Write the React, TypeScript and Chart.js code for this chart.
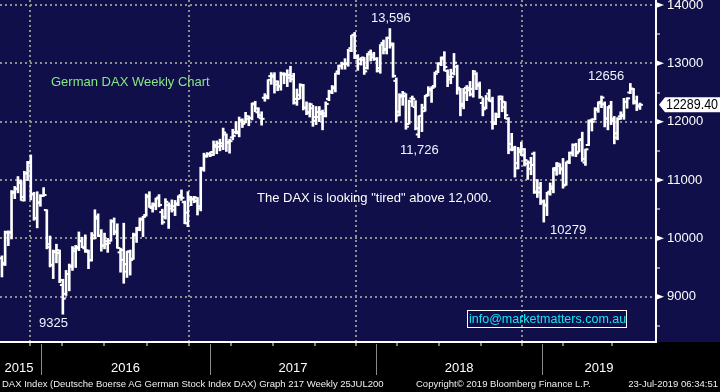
import { useEffect, useRef } from 'react';
import { Chart, registerables } from 'chart.js';

Chart.register(...registerables);

// ---- Weekly OHLC, DAX index, week ending 2 Oct 2015 (index 0) to 23 Jul 2019 ----
const opens = [
  // 2015
  9660, 9580, 10110, 10100, 10780, 10850, 10950, 10650, 11110, 11300, 10760, 10350, 10620, 10730,
  // 2016
  10485, 9900, 9540, 9780, 9750, 9200, 9050, 9390, 9530, 9780, 9850, 9960, 9830, 9770, 9630, 10000,
  10340, 10050, 9880, 9900, 9960, 10300, 10120, 9760, 9800, 9430, 9770, 9650, 10050, 10180, 10320,
  10400, 10720, 10520, 10560, 10700, 10450, 10370, 10570, 10560, 10550, 10600, 10740, 10620, 10440,
  10700, 10680, 10640, 10550, 11180, 11420, 11440,
  // 2017
  11430, 11570, 11570, 11580, 11780, 11640, 11730, 11820, 11830, 12020, 12000, 12050, 12060, 12300,
  12160, 12060, 12410, 12410, 12780, 12790, 12690, 12610, 12810, 12800, 12800, 12780, 12390, 12460,
  12620, 12240, 12150, 12230, 12080, 12080, 12130, 12100, 12390, 12500, 12570, 12860, 12960, 12990,
  13000, 13260, 13490, 13090, 13070, 13100, 12920, 13190, 13150, 13080,
  // 2018
  12870, 13350, 13230, 13440, 13310, 12700, 12170, 12430, 12440, 11960, 12400, 12250, 11780, 12100,
  12180, 12460, 12560, 12610, 12860, 12990, 13100, 12870, 12770, 12830, 12940, 12550, 12270, 12580,
  12580, 12470, 12820, 12640, 12320, 12240, 12480, 12350, 11990, 12080, 12390, 12340, 12050, 11620,
  11520, 11290, 11480, 11430, 11280, 11300, 11450, 10800, 10790, 10630,
  // 2019
  10580, 10800, 10850, 11170, 11240, 11200, 10920, 11320, 11470, 11600, 11480, 11700, 11300, 11600,
  12020, 12040, 12200, 12340, 12300, 12050, 12270, 12050, 11800, 12090, 12120, 12340, 12500, 12560,
  12350, 12280,
];

const highs = [
  // 2015
  9700, 10125, 10130, 10820, 10890, 11060, 10990, 11150, 11320, 11430, 10790, 10800, 10750, 10870,
  // 2016
  10490, 10040, 9800, 9900, 9800, 9300, 9450, 9560, 9860, 9880, 10110, 10020, 10060, 9800, 10100,
  10490, 10420, 10150, 10090, 10000, 10320, 10350, 10250, 9830, 10260, 9780, 9800, 10090, 10190,
  10350, 10380, 10760, 10800, 10610, 10690, 10750, 10500, 10680, 10610, 10660, 10650, 10730, 10830,
  10640, 10800, 10720, 10720, 10700, 11220, 11460, 11470, 11480,
  // 2017
  11670, 11670, 11700, 11890, 11790, 11700, 11870, 12000, 12080, 12050, 12160, 12100, 12320, 12350,
  12240, 12170, 12480, 12720, 12840, 12840, 12700, 12850, 12840, 12890, 12950, 12830, 12560, 12650,
  12640, 12340, 12320, 12280, 12260, 12260, 12200, 12340, 12540, 12620, 12830, 12970, 13020, 13080,
  13240, 13480, 13530, 13150, 13100, 13100, 13170, 13230, 13190, 13100,
  // 2018
  13320, 13400, 13450, 13596, 13350, 12750, 12480, 12520, 12480, 12370, 12440, 12360, 12100, 12300,
  12450, 12600, 12600, 12850, 13010, 13110, 13200, 12890, 12900, 13170, 12970, 12570, 12570, 12620,
  12690, 12880, 12840, 12680, 12410, 12450, 12550, 12420, 12150, 12440, 12440, 12340, 12070, 11800,
  11580, 11560, 11650, 11540, 11330, 11390, 11480, 11010, 10960, 10660,
  // 2019
  10790, 10950, 11210, 11300, 11280, 11370, 11310, 11480, 11620, 11630, 11700, 11820, 11530, 12030,
  12050, 12240, 12340, 12440, 12340, 12260, 12350, 12090, 12070, 12170, 12400, 12410, 12656, 12570,
  12440, 12320,
];

const lows = [
  // 2015
  9338, 9535, 9875, 9990, 10680, 10780, 10650, 10640, 10990, 10660, 10310, 10180, 10550, 10720,
  // 2016
  9820, 9510, 9310, 9580, 9240, 8700, 9020, 9100, 9450, 9500, 9790, 9840, 9760, 9480, 9610, 9990,
  10030, 9780, 9820, 9760, 9950, 10060, 9830, 9420, 9230, 9330, 9370, 9640, 9930, 10130, 10030,
  10380, 10530, 10450, 10490, 10540, 10240, 10330, 10170, 10450, 10390, 10560, 10650, 10250, 10200,
  10560, 10610, 10400, 10470, 11150, 11390, 11400,
  // 2017
  11420, 11450, 11500, 11520, 11490, 11460, 11690, 11790, 11740, 11900, 11980, 11930, 12030, 12170,
  12070, 11940, 12350, 12390, 12640, 12490, 12530, 12540, 12650, 12600, 12680, 12300, 12280, 12390,
  12200, 12120, 12080, 11920, 11950, 12000, 11860, 12080, 12360, 12480, 12510, 12810, 12900, 12900,
  12950, 13200, 13080, 12880, 12970, 12810, 12900, 13040, 13050, 12850,
  // 2018
  12830, 13160, 13160, 13260, 12760, 12000, 12100, 12280, 11870, 11960, 12260, 11860, 11726, 11830,
  12180, 12440, 12330, 12590, 12840, 12960, 12870, 12600, 12650, 12800, 12470, 12100, 12220, 12360,
  12440, 12420, 12550, 12400, 12100, 12220, 12350, 11870, 11950, 12070, 12170, 12050, 11450, 11500,
  11050, 11190, 11420, 11240, 11010, 11090, 10770, 10700, 10580, 10279,
  // 2019
  10390, 10740, 10780, 11080, 11100, 10860, 10910, 11280, 11410, 11400, 11480, 11320, 11250, 11590,
  11840, 12030, 12160, 12240, 11910, 11860, 11950, 11620, 11690, 12040, 12040, 12230, 12480, 12300,
  12190, 12210,
];

const closes = [
  // 2015
  9553, 10096, 10104, 10795, 10850, 10988, 10708, 11119, 11293, 10752, 10340, 10608, 10727, 10743,
  // 2016
  9849, 9545, 9764, 9798, 9286, 8967, 9388, 9513, 9824, 9831, 9950, 9851, 9795, 9622, 10051, 10373,
  10039, 9870, 9952, 9917, 10287, 10103, 9834, 9631, 9558, 9776, 9630, 10066, 10147, 10337, 10367,
  10713, 10544, 10588, 10684, 10573, 10276, 10627, 10511, 10490, 10580, 10711, 10696, 10259, 10668,
  10665, 10700, 10513, 11203, 11404, 11449, 11481,
  // 2017
  11599, 11629, 11630, 11814, 11651, 11666, 11757, 11804, 12027, 11963, 12095, 12064, 12313, 12225,
  12109, 12049, 12438, 12717, 12770, 12638, 12602, 12823, 12816, 12753, 12733, 12325, 12389, 12631,
  12240, 12163, 12298, 12014, 12165, 12168, 12143, 12304, 12519, 12592, 12829, 12956, 12992, 12991,
  13217, 13479, 13127, 12994, 13060, 12862, 13154, 13104, 13073, 12918,
  // 2018
  13320, 13245, 13434, 13340, 12785, 12107, 12452, 12484, 11914, 12346, 12390, 11886, 12097, 12241,
  12442, 12540, 12580, 12820, 13001, 13078, 12938, 12724, 12767, 13011, 12580, 12306, 12496, 12541,
  12561, 12860, 12615, 12424, 12211, 12394, 12364, 11960, 12124, 12431, 12247, 12112, 11524, 11554,
  11201, 11519, 11529, 11341, 11193, 11257, 10788, 10866, 10634, 10559,
  // 2019
  10768, 10888, 11205, 11282, 11181, 10907, 11300, 11458, 11602, 11458, 11686, 11364, 11526, 12010,
  11999, 12222, 12315, 12413, 12060, 12239, 12011, 11727, 12045, 12096, 12340, 12399, 12569, 12323,
  12260, 12289.4,
];

// ---- Axis ticks (x values are week indices) ----
const yearLabels = ['2015', '2016', '2017', '2018', '2019'];
const yearLabelAt = [5.3, 38.55, 90.8, 142.6, 186.2];
const yearDividers = [12.2, 64.9, 116.7, 168.5];
const quarterTicks = [-0.6, 12.2, 25.3, 38.1, 52.1, 64.9, 78.0, 90.8, 104.2, 116.7, 129.8, 142.6, 156.0, 168.5, 181.6, 194.3];
const yMajorTicks = [9000, 10000, 11000, 12000, 13000, 14000];
const yMinorTicks = [8500, 9500, 10500, 11500, 12500, 13500];

const X_MIN = -0.6;
const X_MAX = 204.0;
const Y_MIN = 8223.5;
const Y_MAX = 14085.7;

const NAVY = '#100f4a';
const GRID = '#8e8e8e';

function fontAvailable(name: string): boolean {
  try {
    const c = document.createElement('canvas').getContext('2d');
    if (!c) return false;
    const s = 'mmmmmmmmmlli 0123456789 WAXgy';
    c.font = '40px monospace';
    const a = c.measureText(s).width;
    c.font = `40px "${name}", monospace`;
    const b = c.measureText(s).width;
    c.font = '40px serif';
    const a2 = c.measureText(s).width;
    c.font = `40px "${name}", serif`;
    const b2 = c.measureText(s).width;
    return a !== b && a2 !== b2;
  } catch {
    return false;
  }
}

const HAS_NARROW = fontAvailable('Liberation Sans Narrow');
const AXIS_FAMILY = HAS_NARROW
  ? '"Liberation Sans Narrow", "Liberation Sans", Arial, sans-serif'
  : '"Liberation Sans", Arial, sans-serif';
const AXIS_SIZE = HAS_NARROW ? 15 : 13;
const SANS = '"Liberation Sans", Arial, sans-serif';

const near = (a: number | undefined, b: number) => a !== undefined && Math.abs(a - b) < 0.01;
const isIn = (v: number | undefined, list: number[]) => list.some((t) => near(v, t));

const allXTicks = Array.from(new Set([...quarterTicks, ...yearLabelAt])).sort((a, b) => a - b);
const allYTicks = [...yMinorTicks, ...yMajorTicks].sort((a, b) => a - b);

const decorPlugin = {
  id: 'decor',
  afterDraw(chart: any) {
    const { ctx, chartArea, scales } = chart;
    const xs = scales.x;
    const ys = scales.y;
    ctx.save();
    // triangles at major y ticks
    ctx.fillStyle = '#ffffff';
    for (const v of yMajorTicks) {
      const py = ys.getPixelForValue(v);
      ctx.beginPath();
      ctx.moveTo(chartArea.right, py - 3);
      ctx.lineTo(chartArea.right + 8, py);
      ctx.lineTo(chartArea.right, py + 3);
      ctx.closePath();
      ctx.fill();
    }
    // year divider extensions below the axis
    ctx.strokeStyle = '#8a8a8a';
    ctx.lineWidth = 1;
    for (const v of yearDividers) {
      const px = Math.round(xs.getPixelForValue(v)) + 0.5;
      ctx.beginPath();
      ctx.moveTo(px, chartArea.bottom + 2);
      ctx.lineTo(px, chartArea.bottom + 33);
      ctx.stroke();
    }
    // last price flag
    const last = closes[closes.length - 1];
    const py = ys.getPixelForValue(last);
    const left = chartArea.right + 3;
    ctx.fillStyle = '#ffffff';
    ctx.beginPath();
    ctx.moveTo(left, py);
    ctx.lineTo(left + 6, py - 7.5);
    ctx.lineTo(chart.width, py - 7.5);
    ctx.lineTo(chart.width, py + 7.5);
    ctx.lineTo(left + 6, py + 7.5);
    ctx.closePath();
    ctx.fill();
    ctx.fillStyle = '#000000';
    ctx.font = `${AXIS_SIZE + 1}px ${AXIS_FAMILY}`;
    ctx.textBaseline = 'middle';
    ctx.textAlign = 'left';
    ctx.fillText(last.toFixed(2), left + 7, py + 0.5, 52);
    ctx.restore();
  },
};

function Txt(props: { x: number; y: number; color: string; size?: number; children: string }) {
  const size = props.size ?? 13;
  return (
    <div
      style={{
        position: 'absolute',
        left: props.x,
        top: props.y,
        color: props.color,
        fontFamily: SANS,
        fontSize: size,
        lineHeight: `${size}px`,
        whiteSpace: 'nowrap',
      }}
    >
      {props.children}
    </div>
  );
}

export default function App() {
  const ref = useRef<HTMLCanvasElement>(null);

  useEffect(() => {
    const canvas = ref.current;
    if (!canvas) return;
    const idx = closes.map((_, i) => i);
    const chart = new Chart(canvas, {
      type: 'bar',
      data: {
        datasets: [
          {
            type: 'bar',
            label: 'High-Low',
            data: idx.map((i) => ({ x: i, y: [lows[i], highs[i]] })) as any,
            backgroundColor: '#ffffff',
            borderWidth: 0,
            barThickness: 2,
          } as any,
          {
            type: 'line',
            label: 'Open',
            data: idx.map((i) => ({ x: i - 0.45, y: opens[i] })),
            showLine: false,
            pointStyle: 'line',
            pointRadius: 1.5,
            pointHoverRadius: 1.5,
            pointBorderWidth: 2,
            pointBorderColor: '#ffffff',
            pointBackgroundColor: '#ffffff',
          } as any,
          {
            type: 'line',
            label: 'Close',
            data: idx.map((i) => ({ x: i + 0.45, y: closes[i] })),
            showLine: false,
            pointStyle: 'line',
            pointRadius: 1.5,
            pointHoverRadius: 1.5,
            pointBorderWidth: 2,
            pointBorderColor: '#ffffff',
            pointBackgroundColor: '#ffffff',
          } as any,
        ],
      },
      options: {
        animation: false,
        responsive: false,
        devicePixelRatio: 1,
        events: [],
        layout: { padding: 0, autoPadding: false },
        plugins: {
          legend: { display: false },
          tooltip: { enabled: false },
        },
        scales: {
          x: {
            type: 'linear',
            min: X_MIN,
            max: X_MAX,
            offset: false,
            afterBuildTicks: (s: any) => {
              s.ticks = allXTicks.map((v) => ({ value: v }));
            },
            afterFit: (s: any) => {
              s.height = 50;
              s.paddingLeft = 0;
              s.paddingRight = 0;
            },
            grid: {
              color: (c: any) => (isIn(c.tick?.value, yearDividers) ? GRID : 'transparent'),
              lineWidth: 2,
              tickLength: 4,
              tickWidth: 1,
              tickColor: (c: any) => (isIn(c.tick?.value, quarterTicks) ? '#ffffff' : 'transparent'),
            },
            border: { color: '#ffffff', width: 2, dash: [2, 3] },
            ticks: {
              autoSkip: false,
              maxRotation: 0,
              minRotation: 0,
              padding: 368 - 346 - 0.6 * AXIS_SIZE,
              color: '#ffffff',
              font: { family: AXIS_FAMILY, size: AXIS_SIZE },
              callback: (v: any) => {
                const k = yearLabelAt.findIndex((t) => near(Number(v), t));
                return k >= 0 ? yearLabels[k] : '';
              },
            },
          },
          y: {
            type: 'linear',
            position: 'right',
            min: Y_MIN,
            max: Y_MAX,
            afterBuildTicks: (s: any) => {
              s.ticks = allYTicks.map((v) => ({ value: v }));
            },
            afterFit: (s: any) => {
              s.width = 64;
              s.paddingTop = 0;
              s.paddingBottom = 0;
            },
            grid: {
              color: (c: any) => (isIn(c.tick?.value, yMajorTicks) ? GRID : 'transparent'),
              lineWidth: 2,
              tickLength: 4,
              tickWidth: 1,
              tickColor: (c: any) => (isIn(c.tick?.value, yMinorTicks) ? '#ffffff' : 'transparent'),
            },
            border: { color: '#ffffff', width: 2, dash: [2, 3] },
            ticks: {
              autoSkip: false,
              padding: 7,
              color: '#ffffff',
              font: { family: AXIS_FAMILY, size: AXIS_SIZE },
              callback: (v: any) => (isIn(Number(v), yMajorTicks) ? String(v) : ''),
            },
          },
        },
      } as any,
      plugins: [decorPlugin],
    });
    return () => chart.destroy();
  }, []);

  const footSize = 9.5;
  return (
    <div
      style={{
        position: 'absolute',
        left: 0,
        top: 0,
        width: 720,
        height: 392,
        background: '#000000',
        overflow: 'hidden',
      }}
    >
      <div style={{ position: 'absolute', left: 0, top: 0, width: 720, height: 342, background: NAVY }} />
      <canvas
        ref={ref}
        width={720}
        height={392}
        style={{ position: 'absolute', left: 0, top: 0, width: 720, height: 392 }}
      />
      <Txt x={51} y={75} color="#86e886">German DAX Weekly Chart</Txt>
      <Txt x={371} y={10.7} color="#f2f4ff">13,596</Txt>
      <Txt x={400} y={143} color="#f2f4ff">11,726</Txt>
      <Txt x={588} y={69} color="#f2f4ff">12656</Txt>
      <Txt x={550} y={223.3} color="#f2f4ff">10279</Txt>
      <Txt x={39} y={316.3} color="#f2f4ff">9325</Txt>
      <Txt x={257} y={190.7} color="#ffffff">The DAX is looking "tired" above 12,000.</Txt>
      <div
        style={{
          position: 'absolute',
          left: 467,
          top: 310,
          width: 160,
          height: 18,
          boxSizing: 'border-box',
          border: '1px solid #ffffff',
          color: '#19e3f5',
          fontFamily: SANS,
          fontSize: 12.5,
          lineHeight: '16px',
          paddingLeft: 1,
          whiteSpace: 'nowrap',
        }}
      >
        info@marketmatters.com.au
      </div>
      <Txt x={2} y={379.4} color="#f0f0f0" size={footSize}>
        DAX Index (Deutsche Boerse AG German Stock Index DAX) Graph 217  Weekly 25JUL200
      </Txt>
      <Txt x={416} y={379.4} color="#f0f0f0" size={footSize}>
        Copyright© 2019 Bloomberg Finance L.P.
      </Txt>
      <div
        style={{
          position: 'absolute',
          right: 2,
          top: 379.4,
          color: '#f0f0f0',
          fontFamily: SANS,
          fontSize: footSize,
          lineHeight: `${footSize}px`,
          whiteSpace: 'nowrap',
        }}
      >
        23-Jul-2019 06:34:51
      </div>
    </div>
  );
}
